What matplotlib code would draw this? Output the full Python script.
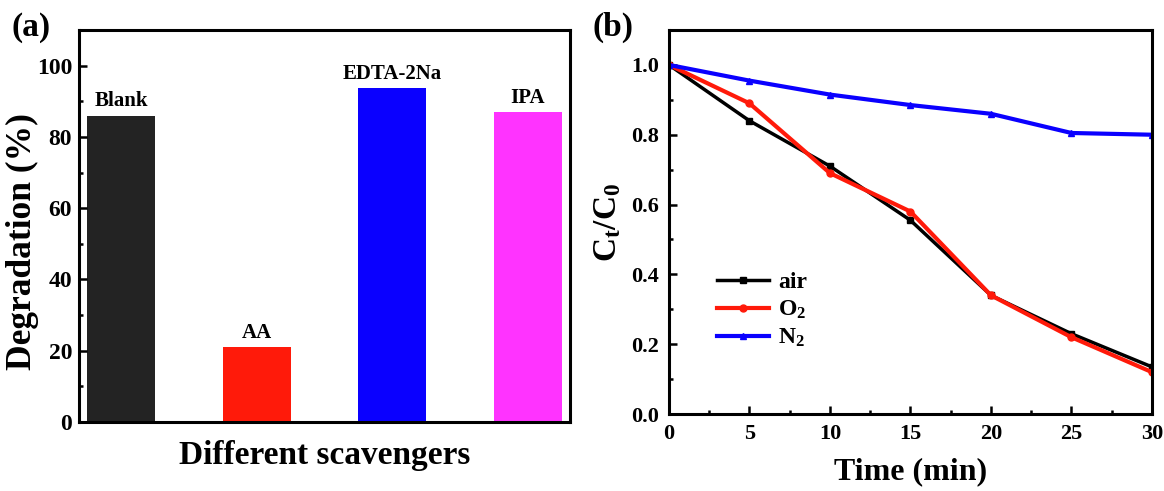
import matplotlib
matplotlib.use("Agg")
import matplotlib.pyplot as plt
from matplotlib.ticker import MultipleLocator

plt.rcParams['font.family'] = ['Liberation Serif', 'DejaVu Serif']
plt.rcParams['font.weight'] = 'bold'
plt.rcParams['mathtext.fontset'] = 'custom'
plt.rcParams['mathtext.rm'] = 'Liberation Serif:bold'
plt.rcParams['mathtext.it'] = 'Liberation Serif:bold'
plt.rcParams['mathtext.bf'] = 'Liberation Serif:bold'

# Panel (a) data
scavengers = ['Blank', 'AA', 'EDTA-2Na', 'IPA']
degradation = [86.0, 21.0, 93.7, 87.0]
bar_colors = ['#232323', '#ff1a0a', '#0a00ff', '#ff33ff']

# Panel (b) data
time_min = [0, 5, 10, 15, 20, 25, 30]
air = [1.0, 0.84, 0.71, 0.555, 0.34, 0.23, 0.135]
o2 = [1.0, 0.89, 0.69, 0.58, 0.34, 0.22, 0.12]
n2 = [1.0, 0.955, 0.915, 0.885, 0.86, 0.805, 0.80]

fig = plt.figure(figsize=(11.64, 4.91), dpi=100)
ax1 = fig.add_axes([0.0679, 0.1405, 0.4218, 0.7984])
ax2 = fig.add_axes([0.5747, 0.1568, 0.4149, 0.7821])

# ---- (a)
pos = list(range(len(scavengers)))
ax1.bar(pos, degradation, width=0.5, color=bar_colors, edgecolor='none')
for p, v, name in zip(pos, degradation, scavengers):
    ax1.text(p, v + 1.2, name, ha='center', va='bottom', fontsize=15, fontweight='bold')
ax1.set_xlim(-0.31, 3.31)
ax1.set_ylim(0, 110)
ax1.set_xticks([])
ax1.yaxis.set_minor_locator(MultipleLocator(10))
ax1.set_yticks([0, 20, 40, 60, 80, 100])
ax1.tick_params(axis='y', which='both', direction='in', labelsize=17, width=1.8, pad=5)
ax1.tick_params(axis='y', which='major', length=6)
ax1.tick_params(axis='y', which='minor', length=3)
ax1.set_ylabel('Degradation (%)', fontsize=25.5, fontweight='bold')
ax1.yaxis.set_label_coords(-0.082, 0.46)
ax1.set_xlabel('Different scavengers', fontsize=24, fontweight='bold', labelpad=13)
for s in ax1.spines.values():
    s.set_linewidth(2.2)
fig.text(0.010, 0.945, '(a)', fontsize=24, fontweight='bold', ha='left', va='center')

# ---- (b)
ax2.plot(time_min, air, color='black', marker='s', markersize=4, linewidth=2.5, label='air')
ax2.plot(time_min, o2, color='#ff1a0a', marker='o', markersize=5, linewidth=3, label='O$_2$')
ax2.plot(time_min, n2, color='#0a00ff', marker='^', markersize=5, linewidth=3, label='N$_2$')
ax2.set_xlim(0, 30)
ax2.set_ylim(0, 1.1)
ax2.xaxis.set_major_locator(MultipleLocator(5))
ax2.xaxis.set_minor_locator(MultipleLocator(2.5))
ax2.yaxis.set_minor_locator(MultipleLocator(0.1))
ax2.set_yticks([0.0, 0.2, 0.4, 0.6, 0.8, 1.0])
ax2.yaxis.set_major_formatter(plt.FormatStrFormatter('%.1f'))
ax2.tick_params(which='both', direction='in', labelsize=16, width=1.8, pad=7)
ax2.tick_params(which='major', length=6)
ax2.tick_params(which='minor', length=3)
ax2.set_xlabel('Time (min)', fontsize=23, fontweight='bold', labelpad=10)
ax2.set_ylabel('C$_t$/C$_0$', fontsize=24, fontweight='bold', labelpad=6)
for s in ax2.spines.values():
    s.set_linewidth(2.2)
leg = ax2.legend(loc='center left', bbox_to_anchor=(0.055, 0.27), frameon=False,
                 fontsize=17, handlelength=2.2, handletextpad=0.4, labelspacing=0.25)
fig.text(0.509, 0.945, '(b)', fontsize=24, fontweight='bold', ha='left', va='center')

fig.savefig('out.png', dpi=100)
